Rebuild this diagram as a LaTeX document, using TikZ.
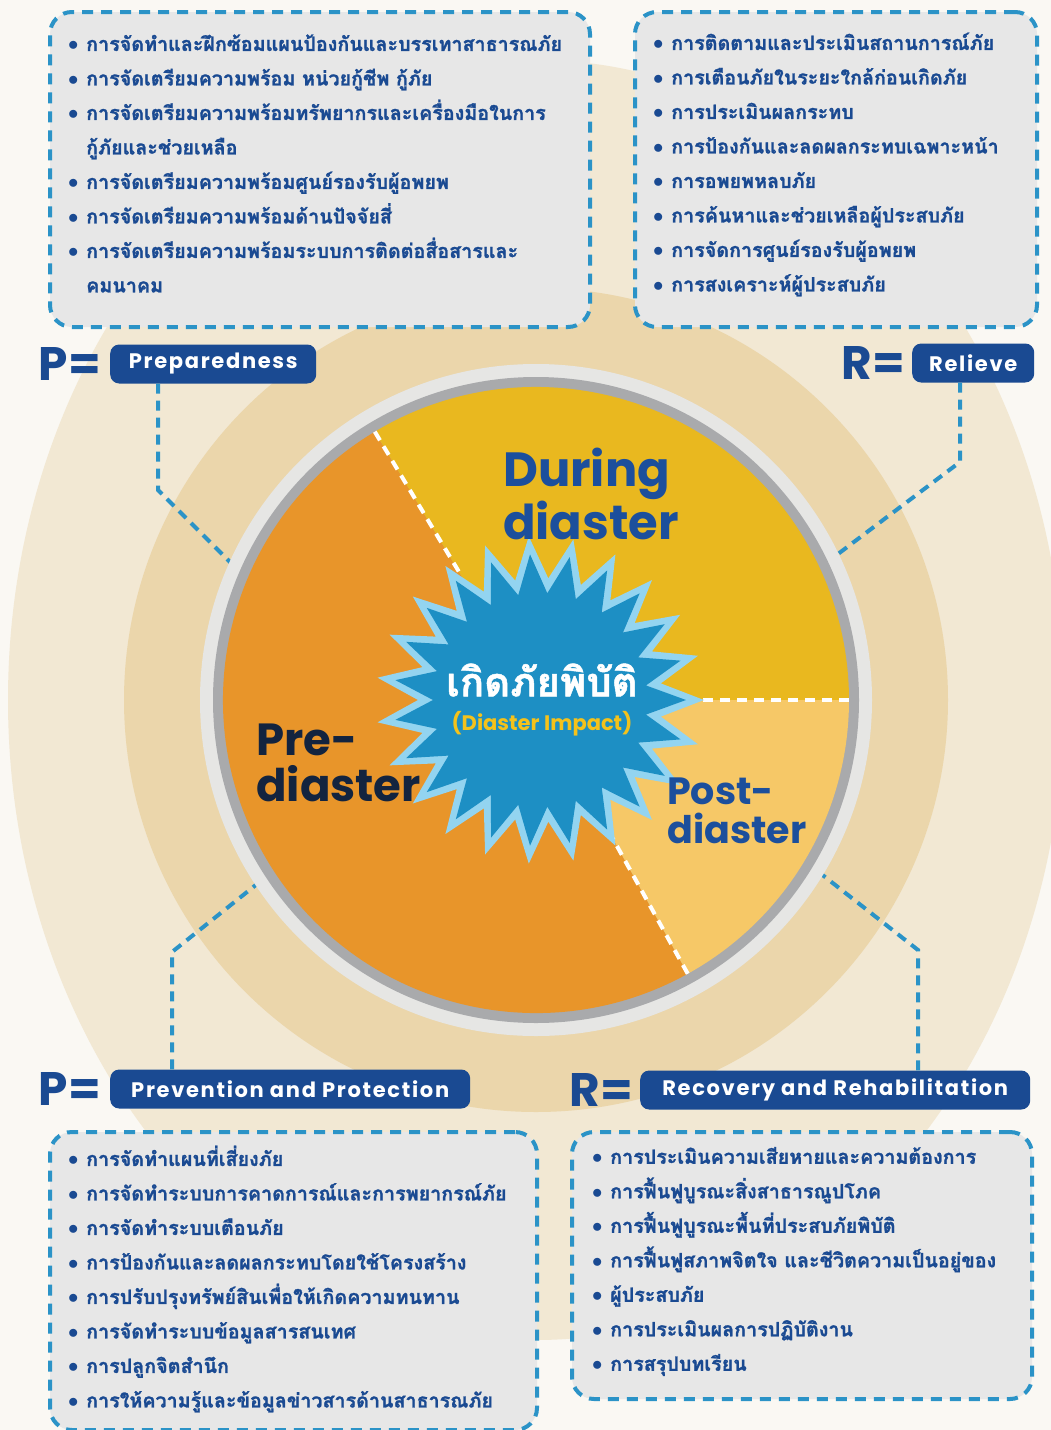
\documentclass[tikz,border=0pt]{standalone}
\usepackage{fontspec}
\usetikzlibrary{positioning}
\newfontfamily\thaifont[Script=Thai, FakeBold=1.2]{Loma}
\newfontfamily\headfont{Poppins}
\newfontfamily\pillfont[LetterSpace=8]{Poppins}
\definecolor{navy}{HTML}{1A4A92}
\definecolor{dashblue}{HTML}{2B93C7}
\definecolor{boxgrey}{HTML}{E7E7E7}
\definecolor{creamout}{HTML}{F2E8D3}
\definecolor{tanring}{HTML}{EBD6AB}
\definecolor{pagebg}{HTML}{FAF8F3}
\definecolor{preorange}{HTML}{E8952A}
\definecolor{duryellow}{HTML}{E9B81F}
\definecolor{postlight}{HTML}{F6C867}
\definecolor{starlight}{HTML}{93D4F0}
\definecolor{stardark}{HTML}{1D8FC4}
\definecolor{ringgrey}{HTML}{A9AAAC}
\definecolor{ringwhite}{HTML}{E6E6E4}
\definecolor{midblue}{HTML}{1C4F9C}
\definecolor{darknavy}{HTML}{13243F}
\definecolor{impactyellow}{HTML}{F4C21B}
\newcommand\itm{\makebox[18pt][l]{$\bullet$}}
\newcommand\cnt{\hspace*{18pt}}
\tikzset{
  itembox/.style={draw=dashblue, fill=boxgrey, line width=4pt, dash pattern=on 11pt off 8pt,
    rounded corners=22pt, anchor=north west, inner sep=0pt},
  itemlist/.style={anchor=west, inner sep=0pt, align=left, text=navy,
    font=\thaifont\bfseries\fontsize{19.7}{34.5}\selectfont},
  pill/.style={fill=navy, rounded corners=9pt, text=white, anchor=west, minimum height=39pt,
    font=\pillfont\bfseries\fontsize{21}{24}\selectfont},
  pletter/.style={text=navy, inner sep=0pt, font=\headfont\bfseries\fontsize{47}{47}\selectfont},
  link/.style={draw=dashblue, line width=4pt, dash pattern=on 10pt off 7pt},
  cut/.style={draw=white, line width=4pt, dash pattern=on 10pt off 7pt},
  phase/.style={align=left, inner sep=0pt, font=\headfont\bfseries}
}
\begin{document}
\begin{tikzpicture}[x=1pt, y=-1pt]
  \useasboundingbox (0,0) rectangle (1051,1430);
  \fill[pagebg] (0,0) rectangle (1051,1430);
  \coordinate (c) at (536,700);
  \fill[creamout] (c) ellipse[x radius=528, y radius=640];
  \fill[tanring] (c) circle[radius=412];

  \node[itembox, minimum width=540pt, minimum height=315pt] (prepbox) at (48,10) {};
  \node[itemlist, xshift=20pt, yshift=6pt] (preplist) at (prepbox.west) {%
    \itm การจัดทำและฝึกซ้อมแผนป้องกันและบรรเทาสาธารณภัย\\
    \itm การจัดเตรียมความพร้อม หน่วยกู้ชีพ กู้ภัย\\
    \itm การจัดเตรียมความพร้อมทรัพยากรและเครื่องมือในการ\\
    \cnt กู้ภัยและช่วยเหลือ\\
    \itm การจัดเตรียมความพร้อมศูนย์รองรับผู้อพยพ\\
    \itm การจัดเตรียมความพร้อมด้านปัจจัยสี่\\
    \itm การจัดเตรียมความพร้อมระบบการติดต่อสื่อสารและ\\
    \cnt คมนาคม};
  \node[itembox, minimum width=402pt, minimum height=315pt] (relbox) at (633,10) {};
  \node[itemlist, xshift=20pt, yshift=5pt] (rellist) at (relbox.west) {%
    \itm การติดตามและประเมินสถานการณ์ภัย\\
    \itm การเตือนภัยในระยะใกล้ก่อนเกิดภัย\\
    \itm การประเมินผลกระทบ\\
    \itm การป้องกันและลดผลกระทบเฉพาะหน้า\\
    \itm การอพยพหลบภัย\\
    \itm การค้นหาและช่วยเหลือผู้ประสบภัย\\
    \itm การจัดการศูนย์รองรับผู้อพยพ\\
    \itm การสงเคราะห์ผู้ประสบภัย};
  \node[itembox, minimum width=487pt, minimum height=298pt] (prevbox) at (48,1130) {};
  \node[itemlist, xshift=20pt, yshift=2pt] (prevlist) at (prevbox.west) {%
    \itm การจัดทำแผนที่เสี่ยงภัย\\
    \itm การจัดทำระบบการคาดการณ์และการพยากรณ์ภัย\\
    \itm การจัดทำระบบเตือนภัย\\
    \itm การป้องกันและลดผลกระทบโดยใช้โครงสร้าง\\
    \itm การปรับปรุงทรัพย์สินเพื่อให้เกิดความทนทาน\\
    \itm การจัดทำระบบข้อมูลสารสนเทศ\\
    \itm การปลูกจิตสำนึก\\
    \itm การให้ความรู้และข้อมูลข่าวสารด้านสาธารณภัย};
  \node[itembox, minimum width=460pt, minimum height=267pt] (recbox) at (570,1130) {};
  \node[itemlist, xshift=22pt, yshift=4pt] (reclist) at (recbox.west) {%
    \itm การประเมินความเสียหายและความต้องการ\\
    \itm การฟื้นฟูบูรณะสิ่งสาธารณูปโภค\\
    \itm การฟื้นฟูบูรณะพื้นที่ประสบภัยพิบัติ\\
    \itm การฟื้นฟูสภาพจิตใจ และชีวิตความเป็นอยู่ของ\\
    \itm ผู้ประสบภัย\\
    \itm การประเมินผลการปฏิบัติงาน\\
    \itm การสรุปบทเรียน};

  \node[pill, minimum width=206pt] (prep) at (110,364) {Preparedness};
  \node[pletter, left=9pt of prep] (prepP) {P=};
  \node[pill, minimum width=122pt] (reliev) at (912,363) {Relieve};
  \node[pletter, left=7pt of reliev] (relievR) {R=};
  \node[pill, minimum width=360pt] (prev) at (110,1089) {Prevention and Protection};
  \node[pletter, left=9pt of prev] (prevP) {P=};
  \node[pill, minimum width=390pt] (recov) at (640,1090) {Recovery and Rehabilitation};
  \node[pletter, left=7pt of recov] (recovR) {R=};

  \coordinate (pa) at (158,490);  \coordinate (pe) at (240,572);
  \coordinate (ra) at (960,462);  \coordinate (re) at (830,560);
  \coordinate (va) at (172,952);  \coordinate (ve) at (262,880);
  \coordinate (ca) at (918,950);  \coordinate (ce) at (820,873);
  \draw[link] (prep.south -| pa) -- (pa) -- (pe);
  \draw[link] (reliev.south -| ra) -- (ra) -- (re);
  \draw[link] (prev.north -| va) -- (va) -- (ve);
  \draw[link] (recov.north -| ca) -- (ca) -- (ce);

  \fill[ringwhite] (c) circle[radius=336];
  \fill[ringgrey] (c) circle[radius=323];
  \fill[preorange] (c) -- ++(61:313) arc[start angle=61, end angle=239, radius=313] -- cycle;
  \fill[duryellow] (c) -- ++(-121:313) arc[start angle=-121, end angle=0, radius=313] -- cycle;
  \fill[postlight] (c) -- ++(0:313) arc[start angle=0, end angle=61, radius=313] -- cycle;
  \draw[cut] ([shift={(-121:150)}]c) -- ([shift={(-121:313)}]c);
  \draw[cut] ([shift={(61:150)}]c) -- ([shift={(61:313)}]c);
  \draw[cut] ([shift={(0:150)}]c) -- ([shift={(0:318)}]c);

  \fill[starlight] plot[samples at={0,...,45}] ({540+ifthenelse(mod(\x,2)==0,164,122)*cos(\x*360/46)},{700+ifthenelse(mod(\x,2)==0,164,122)*sin(\x*360/46)}) -- cycle;
  \fill[stardark] plot[samples at={0,...,45}] ({540+ifthenelse(mod(\x,2)==0,146,107)*cos(\x*360/46)},{700+ifthenelse(mod(\x,2)==0,146,107)*sin(\x*360/46)}) -- cycle;

  \node[inner sep=0pt, text=white, font=\thaifont\bfseries\fontsize{40}{40}\selectfont] (impact) at (542,680) {เกิดภัยพิบัติ};
  \node[inner sep=0pt, text=impactyellow, font=\headfont\bfseries\fontsize{21}{21}\selectfont] (impacten) at (542,724) {(Diaster Impact)};

  \node[phase, text=midblue, font=\headfont\bfseries\fontsize{48}{48}\selectfont, anchor=north west] (during) at (503,448) {During\\diaster};
  \node[phase, text=darknavy, font=\headfont\bfseries\fontsize{45}{46}\selectfont, anchor=north west] (pre) at (256,724) {Pre-\\diaster};
  \node[phase, text=midblue, font=\headfont\bfseries\fontsize{38}{39}\selectfont, anchor=north west] (post) at (667,778) {Post-\\diaster};
\end{tikzpicture}
\end{document}
